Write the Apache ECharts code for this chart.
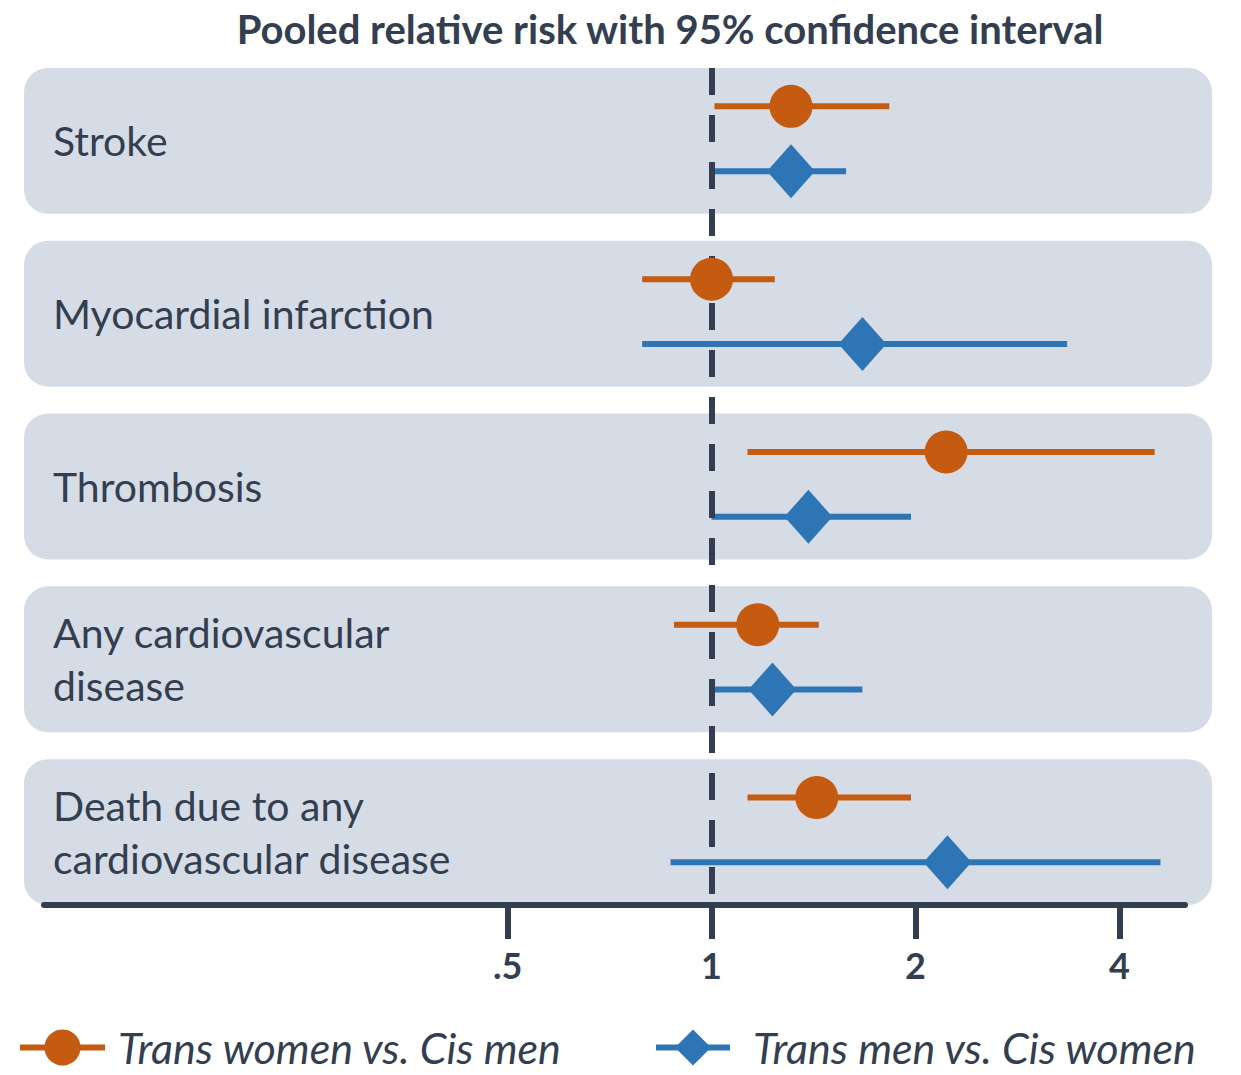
<!DOCTYPE html>
<html>
<head>
<meta charset="utf-8">
<title>Pooled relative risk</title>
<style>
  html, body { margin: 0; padding: 0; background: #fff; }
  #chart { width: 1241px; height: 1075px; }
</style>
<script src="https://cdn.jsdelivr.net/npm/echarts@6/dist/echarts.min.js"></script>
</head>
<body>
<div id="chart"></div>
<script>
// outcomes, top to bottom
const outcomes = [
  'Stroke',
  'Myocardial infarction',
  'Thrombosis',
  'Any cardiovascular\ndisease',
  'Death due to any\ncardiovascular disease'
];
const groupNames = ['Trans women vs. Cis men', 'Trans men vs. Cis women'];

// pooled relative risk + 95% CI
const twRR   = [1.31, 1.00, 2.22, 1.17, 1.43];
const twLow  = [1.01, 0.79, 1.13, 0.88, 1.13];
const twHigh = [1.83, 1.24, 4.51, 1.44, 1.97];
const tmRR   = [1.31, 1.67, 1.39, 1.23, 2.23];
const tmLow  = [1.00, 0.79, 1.00, 1.00, 0.87];
const tmHigh = [1.58, 3.35, 1.97, 1.67, 4.60];

const xTicks = [0.5, 1, 2, 4];

const DARK = '#333F50';
const BAND = '#D6DCE5';
const ORANGE = '#C55A11';
const BLUE = '#2E75B6';
const FONT = 'Lato';
const HALF = 0.422;      // half band height, in row units
const UP = -0.2, DOWN = 0.175; // sub-row offsets

const chart = echarts.init(document.getElementById('chart'), null, { renderer: 'svg' });

function ciRender(params, api) {
  const a = api.coord([api.value(0), api.value(2)]);
  const b = api.coord([api.value(1), api.value(2)]);
  return {
    type: 'line',
    shape: { x1: a[0], y1: a[1], x2: b[0], y2: b[1] },
    style: { stroke: api.visual('color'), lineWidth: 6 }
  };
}

function bandRender(params, api) {
  const i = api.value(1);
  const cs = params.coordSys;
  const y0 = api.coord([1, i - HALF])[1];
  const y1 = api.coord([1, i + HALF])[1];
  return {
    type: 'group',
    children: [{
      type: 'rect',
      shape: { x: cs.x - 20, y: y0, width: cs.width + 47, height: y1 - y0, r: 24 },
      style: { fill: BAND }
    }, {
      type: 'text',
      x: cs.x + 9,
      y: (y0 + y1) / 2,
      style: {
        text: outcomes[i],
        fill: DARK,
        font: '41px ' + FONT,
        lineHeight: 53,
        verticalAlign: 'middle',
        align: 'left'
      }
    }]
  };
}

const legendText = { fontFamily: FONT, fontStyle: 'italic', fontSize: 43, color: DARK };

const option = {
  animation: false,
  title: {
    text: 'Pooled relative risk with 95% confidence interval',
    left: 665,
    textAlign: 'center',
    top: 4,
    textStyle: { fontFamily: FONT, fontWeight: 'bold', fontSize: 40, color: DARK }
  },
  legend: [{
    data: [groupNames[0]],
    left: 17,
    top: 1026,
    padding: 0,
    itemWidth: 85,
    itemHeight: 45,
    lineStyle: { width: 6 },
    textStyle: Object.assign({ padding: [0, 0, 0, 8] }, legendText)
  }, {
    data: [groupNames[1]],
    left: 653,
    top: 1026,
    padding: 0,
    itemWidth: 74,
    itemHeight: 45,
    lineStyle: { width: 6 },
    textStyle: Object.assign({ padding: [0, 0, 0, 18] }, legendText)
  }],
  grid: { left: 44, right: 56, top: 68, bottom: 170 },
  xAxis: {
    type: 'log',
    logBase: 2,
    min: 0.1034,
    max: 5,
    z: 10,
    axisLine: { onZero: false, lineStyle: { color: DARK, width: 6 } },
    axisTick: { customValues: xTicks, length: 34, lineStyle: { color: DARK, width: 6 } },
    axisLabel: {
      customValues: xTicks,
      formatter: v => (v === 0.5 ? '.5' : String(v)),
      margin: 42,
      fontFamily: FONT,
      fontWeight: 'bold',
      fontSize: 36,
      color: DARK
    },
    splitLine: { show: false }
  },
  yAxis: {
    type: 'value',
    inverse: true,
    min: -HALF,
    max: outcomes.length - 1 + HALF,
    show: false
  },
  series: [{
    type: 'custom',
    name: 'bands',
    z: 1,
    silent: true,
    renderItem: bandRender,
    clip: false,
    encode: { x: 0, y: 1 },
    data: outcomes.map((o, i) => [1, i])
  }, {
    type: 'custom',
    name: 'ci-tw',
    z: 3,
    itemStyle: { color: ORANGE },
    renderItem: ciRender,
    encode: { x: [0, 1], y: 2 },
    data: outcomes.map((o, i) => [twLow[i], twHigh[i], i + UP]),
    markLine: {
      silent: true,
      symbol: 'none',
      label: { show: false },
      lineStyle: { color: DARK, width: 6, type: [27, 20] },
      data: [{ xAxis: 1 }]
    }
  }, {
    type: 'custom',
    name: 'ci-tm',
    z: 3,
    itemStyle: { color: BLUE },
    renderItem: ciRender,
    encode: { x: [0, 1], y: 2 },
    data: outcomes.map((o, i) => [tmLow[i], tmHigh[i], i + DOWN])
  }, {
    type: 'line',
    name: groupNames[0],
    z: 5,
    symbol: 'circle',
    symbolSize: 43,
    itemStyle: { color: ORANGE },
    lineStyle: { width: 0 },
    data: twRR.map((v, i) => [v, i + UP])
  }, {
    type: 'line',
    name: groupNames[1],
    z: 5,
    symbol: 'diamond',
    symbolSize: [48, 54],
    itemStyle: { color: BLUE },
    lineStyle: { width: 0 },
    data: tmRR.map((v, i) => [v, i + DOWN])
  }]
};

chart.setOption(option);
</script>
</body>
</html>
